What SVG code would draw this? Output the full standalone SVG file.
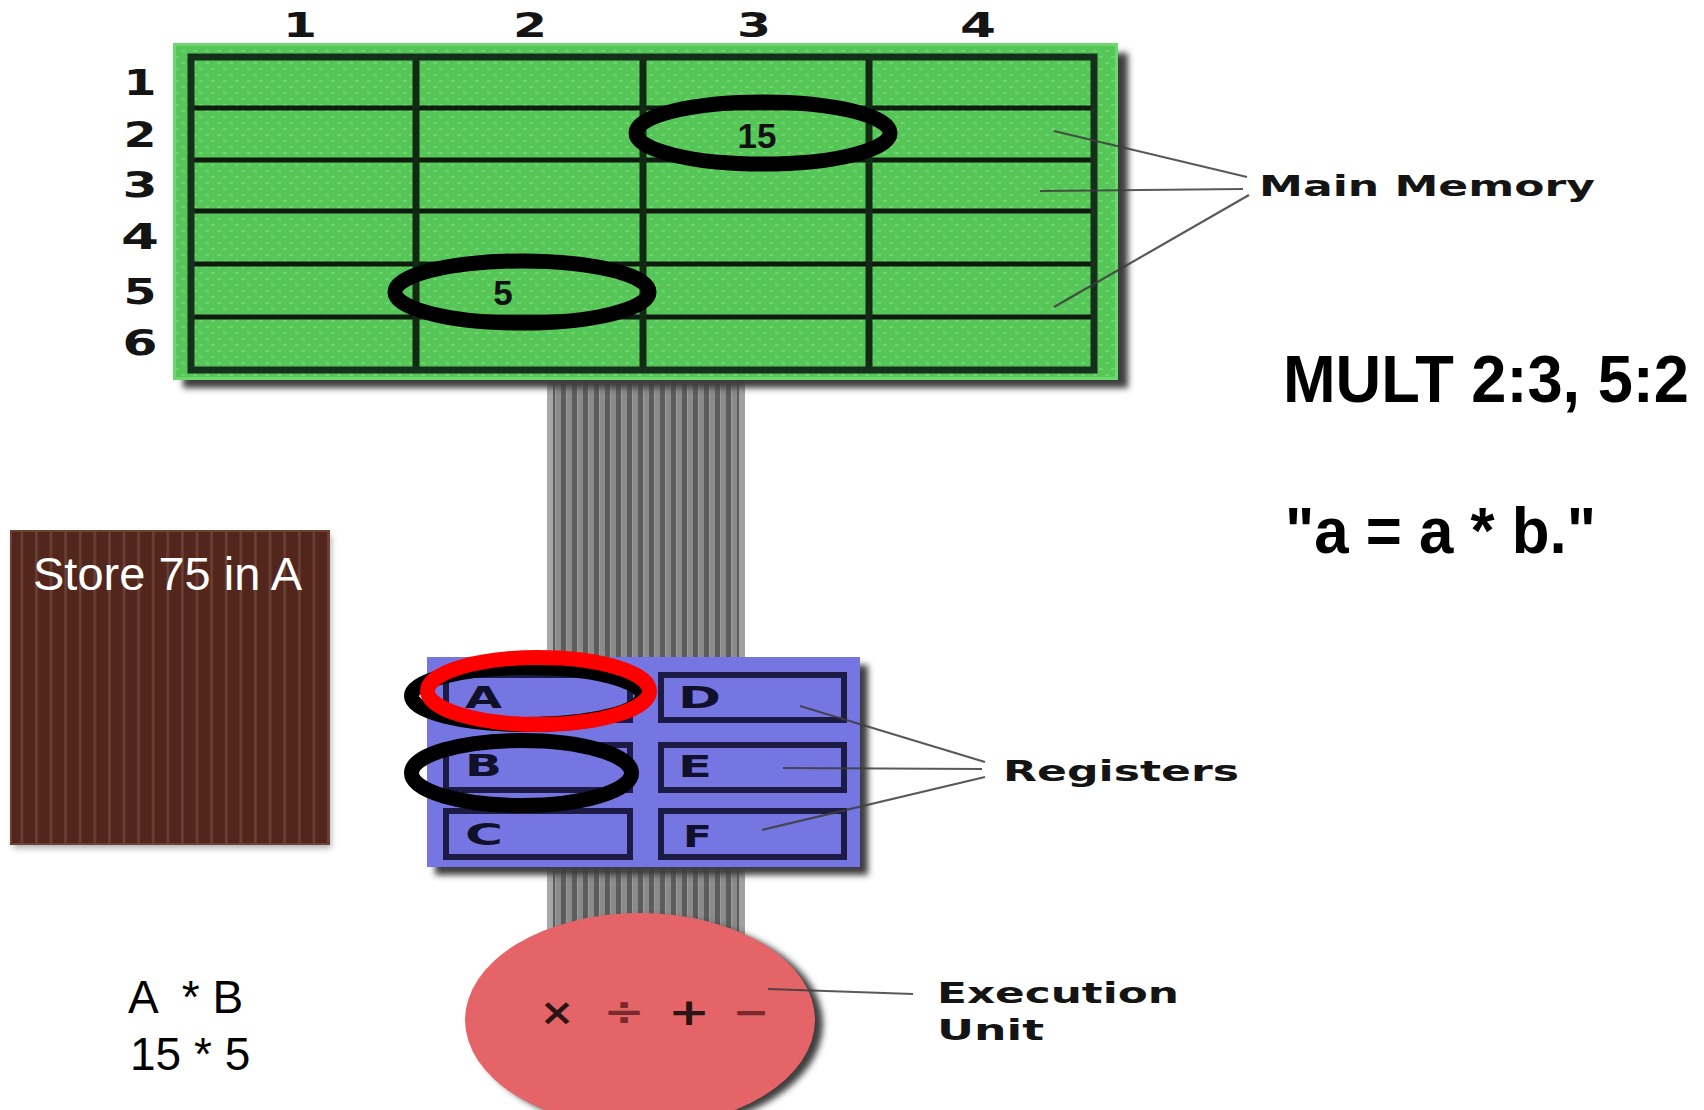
<svg xmlns="http://www.w3.org/2000/svg" width="1704" height="1110" viewBox="0 0 1704 1110">
  <style>
    .pix { font-family: "DejaVu Sans", Verdana, sans-serif; font-weight: bold; fill: #141414; }
    .reg { font-family: "DejaVu Sans", Verdana, sans-serif; font-weight: bold; fill: #10102a; font-size: 31px; }
    .val { font-family: "Liberation Sans", Arial, sans-serif; font-weight: bold; fill: #111; font-size: 35px; text-anchor: middle; }
    .big { font-family: "Liberation Sans", Arial, sans-serif; font-weight: bold; fill: #000; }
    .plain { font-family: "Liberation Sans", Arial, sans-serif; fill: #000; font-size: 46px; white-space: pre; }
    .box { fill: none; stroke: #1b1b45; stroke-width: 6; }
    .lead { stroke: #3c3c3c; stroke-width: 2.2; fill: none; stroke-opacity: 0.85; }
    .ring { fill: none; stroke-width: 15; }
    .op { font-family: "DejaVu Sans", sans-serif; font-weight: bold; font-size: 38px; text-anchor: middle; }
  </style>
  <defs>
    <pattern id="dots" width="12" height="12" patternUnits="userSpaceOnUse">
      <rect x="1" y="2" width="4" height="2" fill="#6bd46d"/>
      <rect x="7" y="8" width="4" height="2" fill="#6bd46d"/>
    </pattern>
    <pattern id="wires" width="11" height="20" patternUnits="userSpaceOnUse">
      <rect x="0" y="0" width="5.5" height="20" fill="#5c5c5c"/>
      <rect x="5.5" y="0" width="5.5" height="20" fill="#8b8b8b"/>
    </pattern>
    <pattern id="grain" width="14.6" height="20" patternUnits="userSpaceOnUse">
      <rect x="0" y="0" width="14.6" height="20" fill="#52261d"/>
      <rect x="6" y="0" width="2.4" height="20" fill="#6c4235"/>
    </pattern>
    <filter id="soft" x="-10%" y="-10%" width="120%" height="120%">
      <feGaussianBlur stdDeviation="3"/>
    </filter>
  </defs>

  <!-- data bus running from memory through the registers to the ALU -->
  <g id="bus">
    <rect x="547" y="378" width="198" height="580" fill="url(#wires)"/>
    <rect x="547" y="378" width="6" height="580" fill="#a8a8a8"/>
    <rect x="739" y="378" width="6" height="580" fill="#a0a0a0"/>
  </g>

  <!-- main memory grid -->
  <g id="main-memory">
    <rect x="183" y="53" width="945" height="335" fill="#3e3e3e" filter="url(#soft)"/>
    <rect x="173" y="43" width="945" height="337" fill="#57c658"/>
    <rect x="173" y="43" width="945" height="337" fill="url(#dots)"/>
    <rect x="174.5" y="44.5" width="942" height="334" fill="none" stroke="#6ad86c" stroke-width="3"/>
    <g stroke="#0d1a0d" stroke-width="5">
      <line x1="191" y1="108" x2="1094" y2="108"/>
      <line x1="191" y1="160" x2="1094" y2="160"/>
      <line x1="191" y1="211" x2="1094" y2="211"/>
      <line x1="191" y1="264" x2="1094" y2="264"/>
      <line x1="191" y1="317" x2="1094" y2="317"/>
    </g>
    <g stroke="#122a13" stroke-width="7">
      <line x1="416" y1="57" x2="416" y2="370"/>
      <line x1="643" y1="57" x2="643" y2="370"/>
      <line x1="869" y1="57" x2="869" y2="370"/>
    </g>
    <rect x="191" y="57" width="903" height="313" fill="none" stroke="#15301a" stroke-width="7"/>
    <g class="pix" font-size="34" text-anchor="middle">
      <text x="300" y="37" textLength="34" lengthAdjust="spacingAndGlyphs">1</text>
      <text x="530" y="37" textLength="34" lengthAdjust="spacingAndGlyphs">2</text>
      <text x="754" y="37" textLength="34" lengthAdjust="spacingAndGlyphs">3</text>
      <text x="978" y="37" textLength="36" lengthAdjust="spacingAndGlyphs">4</text>
    </g>
    <g class="pix" font-size="35" text-anchor="middle">
      <text x="140" y="95" textLength="33" lengthAdjust="spacingAndGlyphs">1</text>
      <text x="140" y="147" textLength="33" lengthAdjust="spacingAndGlyphs">2</text>
      <text x="140" y="197" textLength="35" lengthAdjust="spacingAndGlyphs">3</text>
      <text x="140" y="249" textLength="38" lengthAdjust="spacingAndGlyphs">4</text>
      <text x="140" y="304" textLength="33" lengthAdjust="spacingAndGlyphs">5</text>
      <text x="140" y="355" textLength="35" lengthAdjust="spacingAndGlyphs">6</text>
    </g>
  </g>

  <!-- highlighted memory cells -->
  <g id="cell-2-3">
    <ellipse cx="763" cy="133" rx="127" ry="31" class="ring" stroke="#000" stroke-width="16"/>
    <text x="757" y="148" class="val">15</text>
  </g>
  <g id="cell-5-2">
    <ellipse cx="522" cy="292" rx="127" ry="31" class="ring" stroke="#000" stroke-width="16"/>
    <text x="503" y="305" class="val">5</text>
  </g>

  <!-- register file -->
  <g id="registers">
    <rect x="435" y="665" width="433" height="210" fill="#3e3e3e" filter="url(#soft)"/>
    <rect x="427" y="657" width="433" height="210" fill="#7676e2"/>
    <rect x="446" y="675" width="184" height="45" class="box"/>
    <rect x="446" y="745" width="184" height="45" class="box"/>
    <rect x="446" y="811" width="184" height="46" class="box"/>
    <rect x="661" y="675" width="183" height="45" class="box"/>
    <rect x="661" y="745" width="183" height="45" class="box"/>
    <rect x="661" y="811" width="183" height="46" class="box"/>
    <text x="465" y="708" class="reg" textLength="37" lengthAdjust="spacingAndGlyphs">A</text>
    <text x="465" y="776" class="reg" textLength="37" lengthAdjust="spacingAndGlyphs">B</text>
    <text x="465" y="845" class="reg" textLength="38" lengthAdjust="spacingAndGlyphs">C</text>
    <text x="678" y="708" class="reg" textLength="43" lengthAdjust="spacingAndGlyphs">D</text>
    <text x="678" y="777" class="reg" textLength="34" lengthAdjust="spacingAndGlyphs">E</text>
    <text x="683" y="847" class="reg" textLength="29" lengthAdjust="spacingAndGlyphs">F</text>
  </g>

  <!-- operand and result markers on the registers -->
  <g id="reg-b-mark">
    <ellipse cx="521.5" cy="773" rx="110" ry="32.5" class="ring" stroke="#000"/>
  </g>
  <g id="reg-a-mark">
    <ellipse cx="527" cy="696" rx="115.5" ry="28.5" class="ring" stroke="#000"/>
    <ellipse cx="538.5" cy="691" rx="111" ry="33.5" class="ring" stroke="#ff0000"/>
  </g>

  <!-- arithmetic unit -->
  <g id="execution-unit">
    <ellipse cx="648" cy="1024" rx="175" ry="107" fill="#3e3e3e" filter="url(#soft)"/>
    <ellipse cx="640" cy="1020" rx="175" ry="107" fill="#e56467"/>
    <text x="557" y="1025" class="op" fill="#2a1414" textLength="35" lengthAdjust="spacingAndGlyphs">×</text>
    <text x="624" y="1025" class="op" fill="#7a2a2c" textLength="42" lengthAdjust="spacingAndGlyphs">÷</text>
    <text x="689" y="1025" class="op" fill="#2a1414" textLength="42" lengthAdjust="spacingAndGlyphs">+</text>
    <text x="751" y="1025" class="op" fill="#7a2a2c" textLength="37" lengthAdjust="spacingAndGlyphs">−</text>
  </g>

  <!-- instruction panel -->
  <g id="store-note">
    <rect x="13" y="535" width="318" height="313" fill="#777" filter="url(#soft)" opacity="0.6"/>
    <rect x="11" y="531" width="318" height="313" fill="url(#grain)" stroke="#6d4134" stroke-width="2"/>
    <text x="33" y="590" font-family="Liberation Sans, Arial, sans-serif" font-size="47" fill="#ffffff">Store 75 in A</text>
  </g>

  <g id="operands">
    <text x="128" y="1013" class="plain">A  * B</text>
    <text x="130" y="1070" class="plain">15 * 5</text>
  </g>

  <g id="instruction">
    <text x="1283" y="402" class="big" font-size="66" textLength="406" lengthAdjust="spacingAndGlyphs">MULT 2:3, 5:2</text>
    <text x="1285" y="553" class="big" font-size="64" textLength="311" lengthAdjust="spacingAndGlyphs">"a = a * b."</text>
  </g>

  <!-- callout labels -->
  <g id="labels" class="pix">
    <text x="1259" y="196" font-size="29" textLength="336" lengthAdjust="spacingAndGlyphs">Main Memory</text>
    <text x="1003" y="781" font-size="29" textLength="236" lengthAdjust="spacingAndGlyphs">Registers</text>
    <text x="937" y="1003" font-size="28" textLength="242" lengthAdjust="spacingAndGlyphs">Execution</text>
    <text x="937" y="1040" font-size="28" textLength="107" lengthAdjust="spacingAndGlyphs">Unit</text>
  </g>

  <!-- leader lines -->
  <g id="connectors" class="lead">
    <line x1="1054" y1="131" x2="1247" y2="177"/>
    <line x1="1040" y1="191" x2="1243" y2="189"/>
    <line x1="1054" y1="307" x2="1249" y2="195"/>
    <line x1="800" y1="706" x2="985" y2="762"/>
    <line x1="783" y1="768" x2="982" y2="769"/>
    <line x1="762" y1="830" x2="985" y2="777"/>
    <line x1="768" y1="989" x2="913" y2="994"/>
  </g>
</svg>
